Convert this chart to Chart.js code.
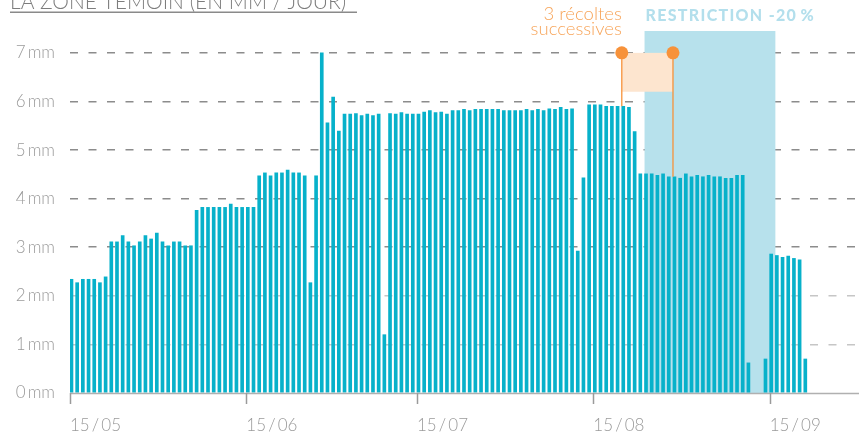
<!DOCTYPE html>
<html lang="fr">
<head>
<meta charset="utf-8">
<script src="https://cdn.jsdelivr.net/npm/chart.js@4.4.1/dist/chart.umd.min.js"></script>
<style>
    html, body { margin: 0; padding: 0; background: #fff; overflow: hidden; }
    #zone { position: relative; width: 859px; height: 438px; }
    #graphique { display: block; }
</style>
</head>
<body>
<div id="zone"><canvas id="graphique"></canvas></div>
<script>
// Besoin en eau journalier, un point par jour a partir du 15/05 (null = pas de mesure)
const valeurs = [
    2.34, 2.27, 2.34, 2.34, 2.34, 2.27, 2.39, 3.11, 3.11, 3.24,
    3.11, 3.03, 3.11, 3.24, 3.17, 3.29, 3.11, 3.03, 3.11, 3.11,
    3.03, 3.03, 3.76, 3.82, 3.82, 3.82, 3.82, 3.82, 3.89, 3.82,
    3.82, 3.82, 3.82, 4.47, 4.53, 4.47, 4.53, 4.53, 4.59, 4.53,
    4.53, 4.47, 2.27, 4.47, 7.00, 5.56, 6.09, 5.39, 5.74, 5.74,
    5.75, 5.71, 5.74, 5.71, 5.74, 1.20, 5.75, 5.74, 5.77, 5.74,
    5.74, 5.74, 5.78, 5.81, 5.77, 5.78, 5.74, 5.81, 5.81, 5.84,
    5.81, 5.84, 5.84, 5.84, 5.84, 5.84, 5.81, 5.81, 5.81, 5.81,
    5.84, 5.81, 5.84, 5.81, 5.85, 5.84, 5.88, 5.84, 5.85, 2.92,
    4.43, 5.93, 5.93, 5.93, 5.90, 5.90, 5.90, 5.90, 5.88, 5.38,
    4.51, 4.51, 4.51, 4.48, 4.51, 4.45, 4.45, 4.42, 4.51, 4.45,
    4.48, 4.45, 4.48, 4.45, 4.45, 4.42, 4.42, 4.48, 4.48, 0.62,
    null, null, 0.70, 2.86, 2.83, 2.79, 2.82, 2.77, 2.74, 0.70
];

// graduations de l'axe des dates (jours depuis le 15/05)
const joursTicks = [0, 31, 61, 92, 123];
const labelsTicks = ['15/05', '15/06', '15/07', '15/08', '15/09'];

// periodes annotees (en jours depuis le 15/05)
const periodeRestriction = [101, 124];
const joursRecoltes = [97, 106];

const TEAL = '#07b1ca';
const ORANGE = '#f7923a';
const POLICE = 'Lato, "Open Sans", sans-serif';

const points = [];
valeurs.forEach((v, i) => {
    if (v !== null) points.push({ x: i + 0.26, y: v });
});

const pluginAnnotations = {
    id: 'annotations',
    beforeDraw(chart) {
        const ctx = chart.ctx;
        ctx.save();
        // titre (coupe en haut comme sur l'original)
        ctx.font = '300 21px ' + POLICE;
        ctx.fillStyle = '#7d7d7d';
        ctx.textBaseline = 'alphabetic';
        ctx.textAlign = 'left';
        ctx.fillText('LA ZONE TÉMOIN (EN MM / JOUR)', 10, 9, 347);
        ctx.fillStyle = '#8a8a8a';
        ctx.fillRect(10, 11.5, 347, 1.5);
        ctx.restore();
    },
    beforeDatasetsDraw(chart) {
        const { ctx, scales: { x, y }, chartArea } = chart;
        ctx.save();
        const x1 = x.getPixelForValue(periodeRestriction[0]);
        const x2 = x.getPixelForValue(periodeRestriction[1]);
        ctx.fillStyle = '#b7e1ec';
        ctx.fillRect(x1, chartArea.top, x2 - x1, y.getPixelForValue(0) - chartArea.top);

        ctx.font = '900 16px ' + POLICE;
        ctx.letterSpacing = '1.3px';
        ctx.fillStyle = '#b3dfec';
        ctx.textAlign = 'left';
        ctx.textBaseline = 'middle';
        ctx.fillText('RESTRICTION -20\u2009%', x1 + 1, 16);
        ctx.restore();
    },
    afterDatasetsDraw(chart) {
        const { ctx, scales: { x, y }, chartArea } = chart;
        ctx.save();
        // axe des dates et petits traits de graduation
        ctx.strokeStyle = '#b0b0b0';
        ctx.lineWidth = 1.5;
        ctx.beginPath();
        ctx.moveTo(chartArea.left, chartArea.bottom + 0.5);
        ctx.lineTo(chartArea.right, chartArea.bottom + 0.5);
        ctx.stroke();
        ctx.strokeStyle = '#9a9a9a';
        joursTicks.forEach(j => {
            const px = Math.round(x.getPixelForValue(j)) + 0.5;
            ctx.beginPath();
            ctx.moveTo(px, chartArea.bottom);
            ctx.lineTo(px, chartArea.bottom + 11);
            ctx.stroke();
        });

        const xa = x.getPixelForValue(joursRecoltes[0]);
        const xb = x.getPixelForValue(joursRecoltes[1]);
        const yh = y.getPixelForValue(7);

        ctx.fillStyle = '#fde5cf';
        ctx.fillRect(xa, yh, xb - xa, y.getPixelForValue(6.2) - yh);

        ctx.strokeStyle = ORANGE;
        ctx.lineWidth = 1.3;
        joursRecoltes.forEach(j => {
            const px = x.getPixelForValue(j);
            ctx.beginPath();
            ctx.moveTo(px, yh);
            ctx.lineTo(px, y.getPixelForValue(valeurs[j]));
            ctx.stroke();
        });
        ctx.fillStyle = ORANGE;
        [xa, xb].forEach(px => {
            ctx.beginPath();
            ctx.arc(px, yh, 6.5, 0, Math.PI * 2);
            ctx.fill();
        });

        ctx.font = '300 18.5px ' + POLICE;
        ctx.fillStyle = '#f7a459';
        ctx.textAlign = 'right';
        ctx.textBaseline = 'alphabetic';
        ctx.fillText('3 récoltes', xa, 20);
        ctx.fillText('successives', xa, 35);
        ctx.restore();
    }
};

new Chart(document.getElementById('graphique'), {
    type: 'bar',
    data: {
        datasets: [{
            data: points,
            backgroundColor: TEAL,
            borderWidth: 0,
            barThickness: 3
        }]
    },
    options: {
        responsive: true,
        maintainAspectRatio: false,
        animation: false,
        layout: { padding: { top: 31, right: 0, left: 0, bottom: 0 } },
        plugins: {
            legend: { display: false },
            tooltip: { enabled: false }
        },
        scales: {
            x: {
                type: 'linear',
                min: 0,
                max: 138.7,
                offset: false,
                afterBuildTicks: (scale) => {
                    scale.ticks = joursTicks.map(v => ({ value: v }));
                },
                afterFit: (scale) => { scale.height = 45; },
                grid: { display: false, drawTicks: true, tickLength: 11 },
                border: { display: false },
                ticks: {
                    autoSkip: false,
                    maxRotation: 0,
                    align: 'start',
                    padding: 11,
                    color: '#9a9a9a',
                    font: { family: POLICE, size: 17, weight: '300' },
                    callback: (v) => {
                        const k = joursTicks.indexOf(v);
                        return k < 0 ? '' : labelsTicks[k].replace('/', '\u2009/\u2009');
                    }
                }
            },
            y: {
                min: 0,
                max: 7.45,
                afterBuildTicks: (scale) => {
                    scale.ticks = scale.ticks.filter(t => Number.isInteger(t.value));
                },
                afterFit: (scale) => { scale.width = 70; },
                ticks: {
                    stepSize: 1,
                    padding: 15,
                    color: '#9a9a9a',
                    font: { family: POLICE, size: 17, weight: '300' },
                    callback: (v) => v + '\u2009mm'
                },
                grid: {
                    drawTicks: false,
                    lineWidth: 1.5,
                    color: (c) => c.tick.value === 0 ? 'rgba(0,0,0,0)' : (c.tick.value <= 2 ? '#c6c6c6' : '#8c8c8c')
                },
                border: { display: false, dash: [8, 10.5] }
            }
        }
    },
    plugins: [pluginAnnotations]
});
</script>
</body>
</html>
